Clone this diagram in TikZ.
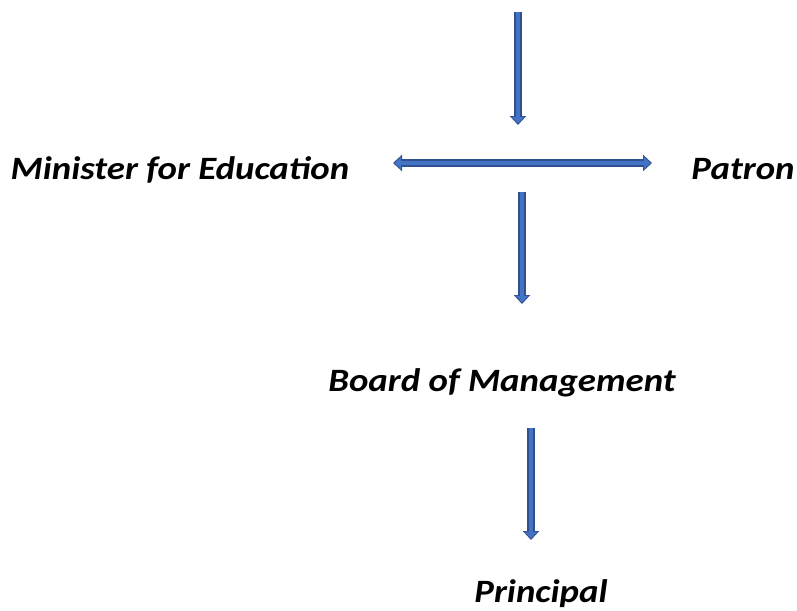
\documentclass[tikz,border=0pt]{standalone}
\usepackage{fontspec}
\setmainfont{Carlito}[FakeStretch=1.13]
\usetikzlibrary{arrows.meta}
\definecolor{arrowEdge}{RGB}{47,82,143}
\definecolor{arrowFill}{RGB}{68,114,196}
\tikzset{
    chart/.style={x=1pt, y=-1pt, font=\fontsize{32.6}{38}\selectfont\bfseries\itshape},
    role/.style={inner sep=0pt, anchor=base},
    blockarrow/.style={draw=arrowEdge, line width=7.5pt,
        -{Triangle[width=16pt, length=9pt]},
        postaction={draw=arrowFill, line width=4.5pt, shorten >=1.6pt,
                    -{Triangle[width=12pt, length=6.5pt]}}},
    twoway/.style={draw=arrowEdge, line width=7.5pt,
        {Triangle[width=16pt, length=9pt]}-{Triangle[width=16pt, length=9pt]},
        postaction={draw=arrowFill, line width=4.5pt, shorten >=1.6pt, shorten <=1.6pt,
                    {Triangle[width=12pt, length=6.5pt]}-{Triangle[width=12pt, length=6.5pt]}}},
}

\begin{document}
\begin{tikzpicture}[chart]
\useasboundingbox (0,0) rectangle (797,610);

% roles (placed on their baselines)
\node[role] (minister)  at (180,179) {Minister for Education};
\node[role] (patron)    at (743,179) {Patron};
\node[role] (board)     at (502,391) {Board of Management};
\node[role] (principal) at (541,602) {Principal};

% arrow end points
\coordinate (source)  at (518,12);
\coordinate (split)   at (518,125);
\coordinate (left)    at (393,163);
\coordinate (right)   at (652,163);
\coordinate (down)    at (522,192);
\coordinate (toboard) at (522,304);
\coordinate (fromboard) at (531,428);
\coordinate (toprincipal) at (531,540);

\draw[blockarrow] (source) -- (split);
\draw[twoway] (left) -- (right);
\draw[blockarrow] (down) -- (toboard);
\draw[blockarrow] (fromboard) -- (toprincipal);

\end{tikzpicture}
\end{document}
